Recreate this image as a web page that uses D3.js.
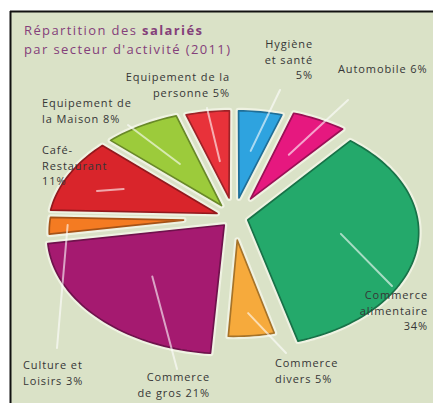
<!DOCTYPE html>
<html>
<head>
<meta charset="utf-8">
<script src="https://cdn.jsdelivr.net/npm/d3@7"></script>
<style>
  body { margin: 0; background: #ffffff; }
  svg { display: block; }
  text { font-family: "Open Sans", "Noto Sans", sans-serif; }
</style>
</head>
<body>
<svg id="chart" width="433" height="403"></svg>
<script>
// Salaried employees by sector of activity (2011), in percent
const sectors = [
  "Hygiène et santé", "Automobile", "Commerce alimentaire", "Commerce divers",
  "Commerce de gros", "Culture et Loisirs", "Café-Restaurant",
  "Equipement de la Maison", "Equipement de la personne"
];
const shares = [5, 6, 34, 5, 21, 3, 11, 8, 5];
// label text per sector; the value is appended to the last line
const labelLines = [
  ["Hygiène", "et santé", ""],
  ["Automobile"],
  ["Commerce", "alimentaire", ""],
  ["Commerce", "divers"],
  ["Commerce", "de gros"],
  ["Culture et", "Loisirs"],
  ["Café-", "Restaurant", ""],
  ["Equipement de", "la Maison"],
  ["Equipement de la", "personne"]
];
const sliceColors = [
  "#2ea3df", "#e6187f", "#24a96b", "#f6aa3c", "#a51a70",
  "#f47b22", "#d9252b", "#9ccb3b", "#e8323a"
];
const titleLine1 = ["Répartition des ", "salariés"];
const titleLine2 = "par secteur d'activité (2011)";

// ---- layout ----
const W = 433, H = 403;
const cx = 234, cy = 218;       // pie centre on screen
const rx = 180, ry = 117;       // ellipse radii
const tilt = 0.11;              // perspective strength (near side larger)
const gap = 0.05;               // width of the separating gaps (plane units)
const explode = [0.02, 0.06, 0.05, 0.03, 0.04, 0.02, 0.03, 0.03, 0.02];
const reach = [1, 1, 0.97, 0.88, 1, 1, 1, 1, 1];          // outer radius per slice
const leaderDepth = [0.6, 0.6, 0.55, 0.72, 0.6, 0.9, 0.65, 0.55, 0.5];
// label anchors and the outer end of each leader line
const labelPos = [
  { x: 313, y: 48, anchor: "end",   lx: 280, ly: 90 },
  { x: 338, y: 73, anchor: "start", lx: 348, ly: 100 },
  { x: 428, y: 299, anchor: "end",  lx: 392, ly: 286 },
  { x: 275, y: 367, anchor: "start", lx: 286, ly: 353 },
  { x: 210, y: 381, anchor: "end",  lx: 177, ly: 369 },
  { x: 23,  y: 369, anchor: "start", lx: 57, ly: 348 },
  { x: 42,  y: 154, anchor: "start", lx: 97, ly: 191 },
  { x: 42,  y: 107, anchor: "start", lx: 128, ly: 125 },
  { x: 230, y: 81,  anchor: "end",  lx: 207, ly: 108 }
];
const lineH = 15.5;

const svg = d3.select("#chart");

// background panel with black frame on top and left
svg.append("rect").attr("x", 10).attr("y", 11).attr("width", W - 10).attr("height", H - 11)
  .attr("fill", "#dae2c7");
svg.append("line").attr("x1", 10).attr("x2", W).attr("y1", 11.5).attr("y2", 11.5)
  .attr("stroke", "#111").attr("stroke-width", 2);
svg.append("line").attr("x1", 10.5).attr("x2", 10.5).attr("y1", 11).attr("y2", H)
  .attr("stroke", "#111").attr("stroke-width", 2);

// title
const t1 = svg.append("text").attr("x", 24).attr("y", 35)
  .attr("font-size", 13).attr("letter-spacing", 1.4).attr("fill", "#84407a");
t1.append("tspan").text(titleLine1[0]);
t1.append("tspan").attr("font-weight", "bold").text(titleLine1[1]);
svg.append("text").attr("x", 24).attr("y", 54)
  .attr("font-size", 13).attr("letter-spacing", 1.4).attr("fill", "#84407a").text(titleLine2);

// plane (u, v) -> screen through a simple perspective tilt
const xs = d3.scaleLinear().domain([-1, 1]).range([cx - rx, cx + rx]);
const ys = d3.scaleLinear().domain([-1, 1]).range([cy - ry, cy + ry]);
function proj([u, v]) {
  const s = 1 / (1 - tilt * v);
  return [xs(u * s), ys(v * s)];
}

const pie = d3.pie().sort(null).value(d => d).startAngle(0).endAngle(2 * Math.PI);
const arcs = pie(shares);

const line = d3.line().curve(d3.curveLinearClosed);

const halo = svg.append("g");
const g = svg.append("g");
arcs.forEach((a, i) => {
  const a0 = a.startAngle, a1 = a.endAngle;
  const mid = (a0 + a1) / 2, half = (a1 - a0) / 2;
  const R = reach[i];
  // wedge whose straight edges sit gap/2 inside the radii, cut by the outer circle
  const apex = gap / (2 * Math.sin(half));
  const delta = Math.asin(gap / (2 * R));
  const ex = Math.sin(mid) * explode[i], ey = -Math.cos(mid) * explode[i];
  const pts = [[ex + Math.sin(mid) * apex, ey - Math.cos(mid) * apex]];
  const b0 = a0 + delta, b1 = a1 - delta;
  const n = Math.max(8, Math.ceil((b1 - b0) / 0.03));
  for (let k = 0; k <= n; k++) {
    const th = b0 + (b1 - b0) * k / n;
    pts.push([ex + R * Math.sin(th), ey - R * Math.cos(th)]);
  }
  const d = line(pts.map(proj));
  // pale rim that lightens the seams between slices
  halo.append("path")
    .attr("d", d)
    .attr("fill", "none")
    .attr("stroke", "#eff2e2")
    .attr("stroke-width", 6)
    .attr("stroke-linejoin", "round");
  g.append("path")
    .attr("d", d)
    .attr("fill", sliceColors[i])
    .attr("stroke", d3.color(sliceColors[i]).darker(1.1))
    .attr("stroke-width", 1.7)
    .attr("stroke-linejoin", "round");
  const r = Math.max(apex + 0.1, leaderDepth[i]);
  a.inner = proj([ex + Math.sin(mid) * r, ey - Math.cos(mid) * r]);
});

// leader lines
arcs.forEach((a, i) => {
  const p = labelPos[i];
  svg.append("line")
    .attr("x1", a.inner[0]).attr("y1", a.inner[1])
    .attr("x2", p.lx).attr("y2", p.ly)
    .attr("stroke", "#ffffff").attr("stroke-opacity", 0.6)
    .attr("stroke-width", 2).attr("stroke-linecap", "round");
});

// labels
arcs.forEach((a, i) => {
  const p = labelPos[i];
  const lines = labelLines[i].slice();
  const last = lines.length - 1;
  lines[last] = (lines[last] ? lines[last] + " " : "") + shares[i] + "%";
  const tx = svg.append("text")
    .attr("text-anchor", p.anchor)
    .attr("font-size", 11)
    .attr("letter-spacing", 0.9)
    .attr("fill", "#363636");
  lines.forEach((s, k) => {
    tx.append("tspan").attr("x", p.x).attr("y", p.y + k * lineH).text(s);
  });
});
</script>
</body>
</html>
